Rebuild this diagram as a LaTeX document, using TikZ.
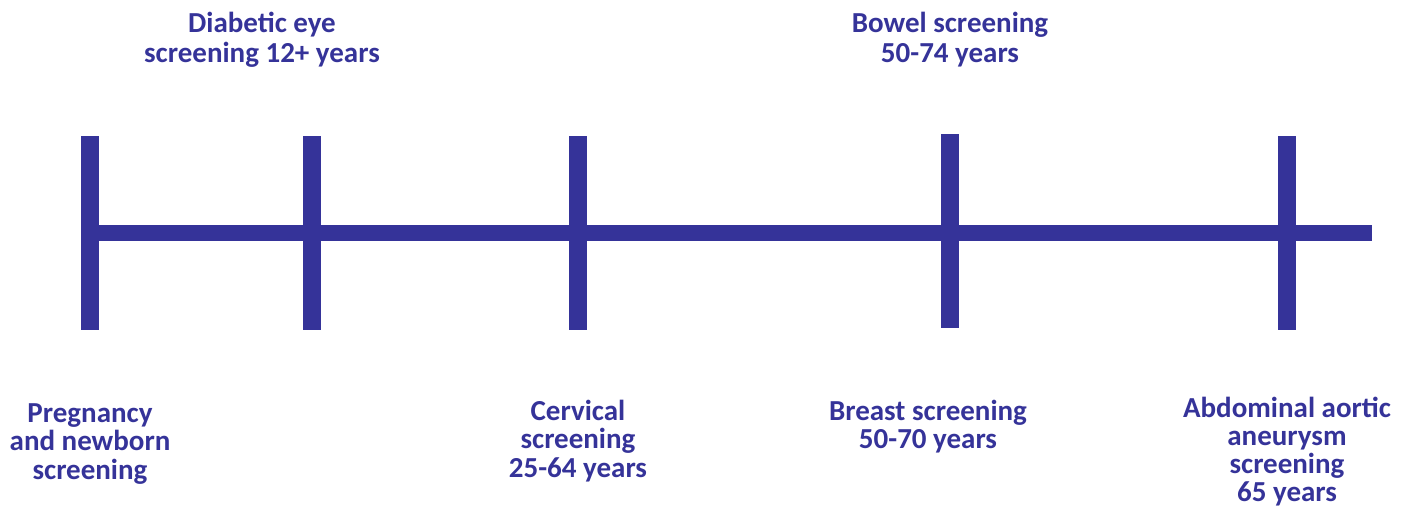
\documentclass[tikz,border=0pt]{standalone}
\usepackage{fontspec}
\setmainfont{Carlito}
\definecolor{nhsblue}{HTML}{353399}
\begin{document}
\begin{tikzpicture}[x=1pt,y=-1pt,
  bar/.style={fill=nhsblue,draw=none},
  lbl/.style={text=nhsblue,font=\bfseries\fontsize{29}{28.5}\selectfont,align=center,inner sep=0pt,anchor=center},
  toplbl/.style={lbl,font=\bfseries\fontsize{29}{30.5}\selectfont}]
\useasboundingbox (0,0) rectangle (1411,509);
% axis
\fill[bar] (81,225) rectangle (1372,241);
% ticks
\fill[bar] (81,136) rectangle (99,330);
\fill[bar] (303,136) rectangle (321,330);
\fill[bar] (569,136) rectangle (587,330);
\fill[bar] (941,134) rectangle (959,328);
\fill[bar] (1278,136) rectangle (1296,330);
% labels
\node[toplbl] (diab) at (262,40) {Diabetic eye\\screening 12+ years};
\node[toplbl] (bowel) at (950,39.5) {Bowel screening\\50-74 years};
\node[lbl] (preg) at (90,444) {Pregnancy\\and newborn\\screening};
\node[lbl] (cerv) at (578,441) {Cervical\\screening\\25-64 years};
\node[lbl] (breast) at (928,426.5) {Breast screening\\50-70 years};
\node[lbl,font=\bfseries\fontsize{29}{28}\selectfont] (aaa) at (1287,452) {Abdominal aortic\\aneurysm\\screening\\65 years};
\end{tikzpicture}
\end{document}
